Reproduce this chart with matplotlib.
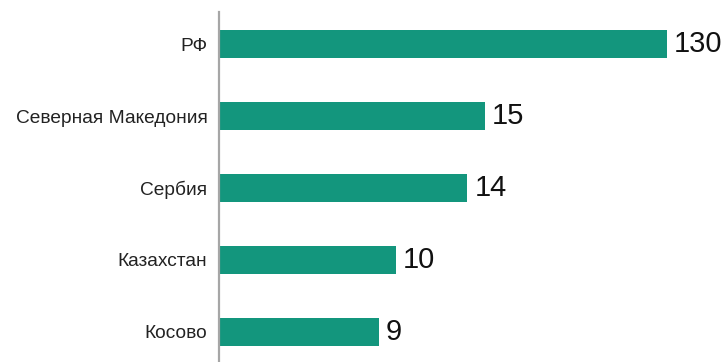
import numpy as np
import matplotlib.pyplot as plt

countries = ['РФ', 'Северная Македония', 'Сербия', 'Казахстан', 'Косово']
values = [130, 15, 14, 10, 9]

bar_color = '#13967d'
axis_color = '#a6a6a6'

# compressed scale above 15 so the large value fits
BREAK = 15.0
K = 0.089

def fwd(v):
    v = np.asarray(v, dtype=float)
    return np.where(v <= BREAK, v, BREAK + (v - BREAK) * K)

def inv(u):
    u = np.asarray(u, dtype=float)
    return np.where(u <= BREAK, u, BREAK + (u - BREAK) / K)

plt.rcParams['font.family'] = ['Liberation Sans', 'DejaVu Sans']

fig = plt.figure(figsize=(7.27, 3.62), dpi=100)
ax = fig.add_axes([218.5 / 727, 0, 1 - 218.5 / 727, 350 / 362])

y = np.arange(len(countries))
ax.barh(y, values, height=0.4, color=bar_color)
ax.set_xscale('function', functions=(fwd, inv))
ax.set_xlim(0, float(inv(28.6)))
ax.set_ylim(len(countries) - 1 + 30 / 72, -32 / 72)

for yi, v in zip(y, values):
    ax.annotate(str(v), (v, yi), xytext=(5, 0), textcoords='offset points',
                va='center', ha='left', fontsize=21, color='#111111')

ax.set_yticks(y)
ax.set_yticklabels(countries, fontsize=13.8, color='#222222')
ax.tick_params(axis='y', length=0, pad=8)
ax.set_xticks([])
for s in ['top', 'right', 'bottom']:
    ax.spines[s].set_visible(False)
ax.spines['left'].set_color(axis_color)
ax.spines['left'].set_linewidth(1.6)

fig.savefig('out.png', dpi=100)
